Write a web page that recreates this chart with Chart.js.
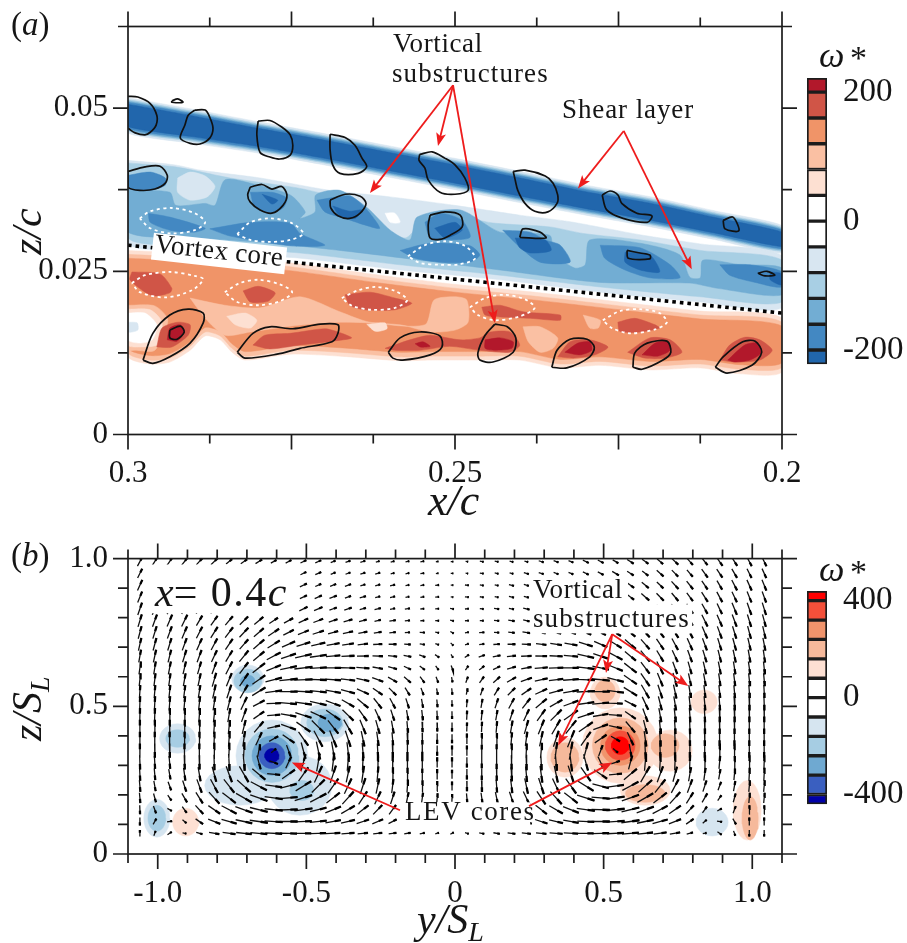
<!DOCTYPE html>
<html>
<head>
<meta charset="utf-8">
<title>vorticity</title>
<script src="https://cdn.jsdelivr.net/npm/chart.js@4"></script>
<style>
body { margin: 0; background: #fff; overflow: hidden; }
canvas { position: absolute; }
</style>
</head>
<body>
<canvas id="cv-a" width="907" height="540" style="left:0px;top:-20px"></canvas>
<canvas id="cv-b" width="907" height="423" style="left:0px;top:520px"></canvas>
<canvas id="cv-bar-a" width="117" height="365" style="left:790px;top:35px"></canvas>
<canvas id="cv-bar-b" width="117" height="310" style="left:790px;top:530px"></canvas>
<script>
// axis ticks
const aXLong = [0.3, 0.275, 0.25, 0.225, 0.2];
const aXShort = [0.2875, 0.2625, 0.2375, 0.2125];
const aYLong = [0, 0.025, 0.05];
const aYShort = [0.0125, 0.0375, 0.0625];
const aXLabels = ['0.3', '0.25', '0.2'];
const aYLabels = ['0', '0.025', '0.05'];
const bXLong = [-1, -0.5, 0, 0.5, 1];
const bXShort = [-1.1, -0.9, -0.8, -0.7, -0.6, -0.4, -0.3, -0.2, -0.1, 0.1, 0.2, 0.3, 0.4, 0.6, 0.7, 0.8, 0.9, 1.1];
const bYLong = [0, 0.5, 1];
const bYShort = [0.1, 0.2, 0.3, 0.4, 0.6, 0.7, 0.8, 0.9];
const bXLabels = ['-1.0', '-0.5', '0', '0.5', '1.0'];
const bYLabels = ['0', '0.5', '1.0'];

// colour bars
const barEdgesA = [-222, -200, -160, -120, -80, -40, 0, 40, 80, 120, 160, 200, 222];
const barColorsA = ['#2166ac', '#4388c2', '#72add3', '#a8cfe4', '#d8e6f1', '#ffffff', '#ffffff', '#fde0d2', '#fac0a3', '#f09468', '#d05547', '#b2182b'];
const barEdgesB = [-440, -400, -320, -240, -160, -80, 0, 80, 160, 240, 320, 400, 440];
const barColorsB = ['#0000a8', '#3a5fc0', '#6fa9d1', '#a6cde3', '#d6e5f0', '#ffffff', '#ffffff', '#fde0d3', '#f6b99b', '#f0946c', '#f4503a', '#ff0000'];
const barTicksA = [-200, 0, 200];
const barTicksB = [-400, 0, 400];

// (a) x/c and z/c below are in units of 1e-4
const stations = [3000, 2900, 2800, 2700, 2600, 2500, 2400, 2300, 2200, 2100, 2000];
const shearTop1 = [516, 498, 479, 461, 442, 423, 403, 382, 364, 342, 320];
const shearBot1 = [462, 446, 431, 413, 394, 375, 355, 336, 318, 298, 278];
const shearTop2 = [513, 495, 476, 458, 439, 420, 400, 379, 361, 339, 317];
const shearBot2 = [465, 449, 434, 416, 397, 378, 358, 339, 321, 301, 281];
const shearTop3 = [511, 493, 474, 456, 437, 418, 398, 377, 359, 337, 315];
const shearBot3 = [467, 451, 436, 418, 399, 380, 360, 341, 323, 303, 283];
const shearTop4 = [509, 491, 472, 454, 435, 416, 396, 375, 357, 335, 313];
const shearBot4 = [469, 453, 438, 420, 401, 382, 362, 343, 325, 305, 285];
const shearTop5 = [506, 488, 469, 451, 432, 413, 393, 372, 354, 332, 310];
const shearBot5 = [472, 456, 441, 423, 404, 385, 365, 346, 328, 308, 288];

const coreBlue1 = [3000,420, 2928,413, 2890,405, 2798,393, 2691,374, 2599,364, 2500,351, 2401,336, 2324,326, 2217,306, 2125,292, 2000,274, 2000,194, 2125,203, 2278,218, 2431,237, 2584,252, 2737,270, 2890,282, 3000,293];
const coreBlue2 = [3000,416, 2928,410, 2844,393, 2737,377, 2676,362, 2638,348, 2607,316, 2576,301, 2553,321, 2508,336, 2442,324, 2355,318, 2304,308, 2217,298, 2125,282, 2000,267, 2000,203, 2125,211, 2278,226, 2431,244, 2584,260, 2737,278, 2890,290, 3000,301];
const lightPatch = [2924,393, 2905,402, 2882,396, 2867,380, 2879,364, 2905,359, 2924,371];
const whiteSpot = [2607,339, 2592,339, 2584,325, 2599,325];
const coreBlue3 = [3000,374, 2936,371, 2927,351, 2882,354, 2867,351, 2852,390, 2813,385, 2752,367, 2729,341, 2737,331, 2714,341, 2713,367, 2676,374, 2635,348, 2599,313, 2569,298, 2558,333, 2492,344, 2431,310, 2355,305, 2350,278, 2317,255, 2301,260, 2294,298, 2217,293, 2156,275, 2141,241, 2125,240, 2121,267, 2064,260, 2000,255, 2000,214, 2099,224, 2141,232, 2278,233, 2431,252, 2553,267, 2676,282, 2783,293, 2890,301, 3000,310];
const patchesBlue4 = [
  [3000,397, 2966,402, 2943,393, 2943,382, 2966,374, 3000,377],
  [2969,339, 2936,333, 2882,316, 2898,310, 2936,313, 2966,325],
  [2875,315, 2813,325, 2752,324, 2737,308, 2699,290, 2752,289, 2844,304],
  [2813,371, 2780,371, 2757,362, 2763,347, 2783,339, 2806,348],
  [2711,359, 2661,365, 2638,348, 2615,316, 2638,321, 2668,331, 2699,341],
  [2546,325, 2523,339, 2489,328, 2477,302, 2515,298, 2538,301],
  [2584,282, 2538,293, 2477,289, 2462,275, 2477,264, 2523,264, 2561,270],
  [2427,313, 2385,310, 2362,298, 2339,290, 2324,264, 2370,264, 2404,290],
  [2278,290, 2217,286, 2171,260, 2156,240, 2202,240, 2240,252, 2271,270],
  [2095,260, 2049,260, 2000,249, 2000,226, 2041,233, 2080,244]
];
const patchesBlue5 = [
  [2795,368, 2771,359, 2780,353],
  [2687,350, 2661,342, 2642,344, 2653,331, 2676,335],
  [2531,316, 2500,325, 2489,313, 2515,301],
  [2408,301, 2362,298, 2353,282, 2385,278, 2401,286],
  [2240,279, 2202,275, 2187,249, 2217,252, 2240,264],
  [2018,249, 2000,246, 2000,229, 2018,237]
];
const coreRed1 = [3000,282, 2890,276, 2752,263, 2615,244, 2500,230, 2370,217, 2248,203, 2125,189, 2000,178, 2000,96, 2064,93, 2125,102, 2202,99, 2278,106, 2339,102, 2401,114, 2462,114, 2538,114, 2584,113, 2676,120, 2752,123, 2821,114, 2841,126, 2859,145, 2882,151, 2905,129, 2936,111, 2966,108, 3000,120];
const coreRed2 = [3000,276, 2890,270, 2752,257, 2615,238, 2500,224, 2370,211, 2248,197, 2125,183, 2000,172, 2000,103, 2064,100, 2125,108, 2202,105, 2278,112, 2339,108, 2401,120, 2462,120, 2538,120, 2584,119, 2676,126, 2752,129, 2821,120, 2841,132, 2859,151, 2882,157, 2905,135, 2936,117, 2966,114, 3000,126];
const coreRed3 = [3000,270, 2890,264, 2752,251, 2615,232, 2500,218, 2370,205, 2248,191, 2125,177, 2000,166, 2000,110, 2064,107, 2125,115, 2202,112, 2278,119, 2339,115, 2401,127, 2462,127, 2538,127, 2584,126, 2676,133, 2752,136, 2821,127, 2841,139, 2859,158, 2882,164, 2905,142, 2936,124, 2966,121, 3000,133];
const patchesRed2 = [
  [2905,209, 2852,198, 2798,194, 2737,211, 2676,188, 2630,172, 2546,168, 2532,206, 2500,211, 2482,206, 2480,172, 2500,160, 2538,157, 2584,168, 2676,172, 2752,166, 2813,157, 2852,152, 2882,178],
  [2396,165, 2370,165, 2343,148, 2350,132, 2370,126, 2388,142],
  [2304,183, 2278,175, 2281,163, 2294,163],
  [3000,198, 2959,197, 2939,175, 2959,129, 2989,129, 3000,129]
];
const patchesRed1 = [
  [2849,181, 2821,186, 2803,175, 2813,163, 2836,168],
  [2635,169, 2607,171, 2604,162, 2622,158],
  [3000,192, 2966,191, 2948,172, 2955,138, 2982,134, 3000,137]
];
const holeWhite = [3000,186, 2974,186, 2956,168, 2963,145, 2982,140, 3000,145];
const holeBlue = [3000,172, 2986,171, 2985,160, 3000,157];
const patchesRed4 = [
  [2994,249, 2951,246, 2933,224, 2936,217, 2959,212, 2974,218, 2997,237],
  [2824,220, 2801,227, 2775,217, 2786,204, 2813,203],
  [2668,214, 2630,218, 2592,209, 2566,201, 2592,191, 2638,191, 2661,198],
  [2459,195, 2431,198, 2396,188, 2339,183, 2339,175, 2385,178, 2431,180, 2454,183],
  [2251,172, 2225,178, 2194,168, 2187,163, 2217,157, 2248,158],
  [2956,134, 2948,163, 2924,172, 2905,168, 2908,152, 2933,134],
  [2809,137, 2791,152, 2752,155, 2699,162, 2679,157, 2658,148, 2687,143, 2737,137, 2783,131],
  [2607,132, 2569,145, 2538,152, 2492,145, 2462,148, 2446,157, 2416,157, 2401,137, 2416,126, 2462,129, 2508,135, 2553,129, 2592,129],
  [2343,119, 2324,142, 2294,145, 2266,134, 2286,122, 2317,117],
  [2236,126, 2202,148, 2171,145, 2153,126, 2179,117, 2210,117],
  [2095,114, 2080,137, 2057,149, 2034,145, 2015,129, 2034,114, 2072,111]
];
const patchesRed5 = [
  [2940,145, 2936,163, 2920,168, 2914,157, 2925,143],
  [2561,139, 2549,142, 2538,135, 2553,134],
  [2454,145, 2431,148, 2411,142, 2413,132, 2439,129, 2454,132],
  [2332,126, 2312,140, 2294,142, 2291,129, 2309,122],
  [2214,122, 2194,140, 2174,142, 2171,129, 2190,120],
  [2083,114, 2057,137, 2038,140, 2031,126, 2049,114, 2072,111]
];
const blackLoops = [
  [3000,518, 2985,517, 2966,507, 2956,489, 2957,474, 2966,463, 2974,459, 2989,462, 3000,469],
  [2933,511, 2924,514, 2916,509, 2933,509],
  [2898,497, 2882,497, 2875,486, 2870,469, 2875,454, 2890,445, 2905,446, 2920,454, 2913,474, 2908,489],
  [2801,480, 2783,481, 2765,471, 2752,459, 2748,443, 2752,428, 2768,422, 2783,425, 2798,432, 2803,459],
  [2691,460, 2668,455, 2653,443, 2642,423, 2635,410, 2648,400, 2676,400, 2687,413, 2691,436],
  [2554,429, 2535,433, 2515,423, 2500,413, 2485,393, 2480,374, 2500,368, 2523,371, 2541,390, 2546,408, 2555,420],
  [2411,403, 2393,405, 2362,396, 2350,385, 2343,367, 2344,354, 2358,341, 2378,342, 2393,354, 2404,374, 2408,390],
  [2275,367, 2263,373, 2251,367, 2245,354, 2222,339, 2199,335, 2206,325, 2243,331, 2268,344],
  [2090,328, 2075,333, 2066,312, 2087,315],
  [3000,403, 2974,410, 2951,411, 2940,397, 2943,385, 2959,376, 2982,374, 3000,379],
  [2813,379, 2795,383, 2780,376, 2765,380, 2757,367, 2763,351, 2780,339, 2798,344, 2813,356, 2817,367],
  [2691,359, 2668,368, 2645,365, 2636,354, 2645,339, 2661,331, 2679,335, 2690,347],
  [2538,336, 2515,341, 2492,336, 2489,318, 2508,305, 2523,299, 2538,301, 2541,321],
  [2401,302, 2396,315, 2370,310, 2361,301],
  [2237,282, 2235,270, 2202,269, 2202,275, 2217,278],
  [2037,247, 2023,250, 2011,244, 2026,243],
  [2977,114, 2962,155, 2936,183, 2908,192, 2885,186, 2885,171, 2905,140, 2936,119, 2962,109],
  [2936,160, 2920,166, 2914,157, 2925,146, 2936,148],
  [2833,126, 2809,155, 2783,165, 2748,162, 2706,169, 2679,168, 2679,155, 2688,142, 2737,132, 2772,123, 2821,117],
  [2602,126, 2584,148, 2554,157, 2523,151, 2520,134, 2538,122, 2580,114, 2595,117],
  [2439,169, 2420,165, 2407,148, 2411,126, 2442,111, 2462,114, 2465,125, 2454,152],
  [2352,103, 2344,129, 2324,146, 2298,146, 2287,134, 2294,119, 2329,102],
  [2228,103, 2225,125, 2206,140, 2176,143, 2170,126, 2182,114, 2214,100],
  [2102,103, 2090,119, 2060,142, 2041,143, 2031,126, 2046,106, 2084,94]
];
const whiteLoops = [
  [2982,331, 2966,342, 2933,347, 2898,339, 2882,325, 2898,313, 2933,308, 2966,316],
  [2833,307, 2813,325, 2783,331, 2752,325, 2732,308, 2752,298, 2783,295, 2813,298],
  [2572,273, 2546,290, 2515,296, 2485,289, 2469,270, 2492,261, 2523,260, 2554,263],
  [2994,232, 2974,244, 2936,249, 2898,243, 2885,238, 2902,221, 2943,210, 2982,218],
  [2852,218, 2829,232, 2801,237, 2768,230, 2749,218, 2768,204, 2801,198, 2833,203],
  [2673,209, 2648,221, 2622,226, 2592,220, 2573,206, 2592,194, 2627,191, 2657,197],
  [2477,195, 2454,209, 2424,214, 2393,207, 2378,194, 2401,181, 2439,175, 2465,183],
  [2274,175, 2248,189, 2217,192, 2187,186, 2176,172, 2194,161, 2232,155, 2260,163]
];
const vortexCoreLine = [3000,290, 2500,238, 2000,186];
const redArrowsA = [
  [2503,535, 2630,370], [2503,535, 2526,442], [2503,535, 2439,171],
  [2242,465, 2312,377], [2242,465, 2138,253]
];

// (b) blobs: y/S, z/S, radius in y, radius in z
const blobsBlue1 = [[-0.616,0.333,0.121,0.121], [-0.724,0.232,0.118,0.067], [-0.522,0.232,0.108,0.101], [-0.438,0.444,0.081,0.064], [-0.933,0.391,0.061,0.05], [-0.697,0.593,0.054,0.047], [-1.003,0.121,0.044,0.064], [0.865,0.108,0.054,0.047]];
const blobsBlue2 = [[-0.616,0.333,0.091,0.091], [-0.438,0.444,0.061,0.047], [-0.933,0.391,0.04,0.03], [-0.697,0.586,0.047,0.04], [-1.003,0.121,0.03,0.044], [-0.515,0.215,0.04,0.034]];
const blobsBlue3 = [[-0.616,0.333,0.067,0.067], [-0.421,0.444,0.04,0.03], [-0.697,0.586,0.024,0.02]];
const blobsBlue4 = [[-0.616,0.333,0.044,0.044]];
const blobsBlue5 = [[-0.616,0.333,0.024,0.024]];
const blobsRed1 = [[0.556,0.367,0.128,0.128], [0.724,0.35,0.074,0.07], [0.37,0.327,0.061,0.067], [0.64,0.215,0.084,0.05], [0.505,0.545,0.05,0.054], [0.838,0.515,0.044,0.04], [-0.906,0.108,0.044,0.047], [0.983,0.148,0.047,0.101]];
const blobsRed2 = [[0.556,0.367,0.094,0.094], [0.37,0.327,0.047,0.05], [0.64,0.205,0.067,0.03], [0.505,0.552,0.034,0.037], [0.707,0.367,0.047,0.04], [0.993,0.121,0.027,0.074]];
const blobsRed3 = [[0.556,0.367,0.067,0.067]];
const blobsRed4 = [[0.556,0.367,0.05,0.05]];
const blobsRed5 = [[0.556,0.367,0.03,0.03]];
const redArrowsB = [
  [0.529,0.744,0.347,0.367], [0.529,0.744,0.508,0.613], [0.529,0.744,0.785,0.569],
  [-0.185,0.148,-0.549,0.31], [0.249,0.162,0.529,0.31]
];
const whiteBoxesB = [[-1.037,0.98,-0.532,0.815], [0.253,0.939,0.582,0.845], [0.253,0.845,0.798,0.747], [-0.182,0.175,0.253,0.098]];

// (b) velocity field
const quiverY = [-1.06,-1.01,-0.96,-0.91,-0.86,-0.81,-0.76,-0.71,-0.66,-0.61,-0.56,-0.51,-0.46,-0.41,-0.36,-0.31,-0.26,-0.21,-0.16,-0.11,-0.06,-0.01,0.04,0.09,0.14,0.19,0.24,0.29,0.34,0.39,0.44,0.49,0.54,0.59,0.64,0.69,0.74,0.79,0.84,0.89,0.94,0.99,1.04];
const quiverZ = [0.99,0.95,0.91,0.87,0.83,0.79,0.75,0.71,0.67,0.63,0.59,0.55,0.51,0.47,0.43,0.39,0.35,0.31,0.27,0.23,0.19,0.15,0.11,0.07];
const quiverAngle = [
[62,58,55,52,48,44,40,36,33,30,28,26,24,22,20,18,16,14,12,10,8,0,-8,-10,-12,-14,-16,-18,-20,-22,-26,-28,-30,-33,-36,-40,-44,-48,-52,-55,-58,-62,-64],
[64,60,57,54,50,46,42,38,34,31,28,26,24,22,20,18,16,14,12,10,8,0,-8,-10,-12,-14,-16,-18,-20,-22,-26,-28,-31,-34,-38,-42,-46,-50,-54,-57,-60,-64,-66],
[66,63,60,56,52,48,44,40,36,32,29,26,24,22,20,18,16,14,12,10,6,0,-6,-10,-12,-14,-16,-18,-20,-22,-26,-29,-32,-36,-40,-44,-48,-52,-56,-60,-63,-66,-68],
[68,65,62,58,54,50,46,41,37,33,29,26,24,21,19,17,15,13,11,8,5,-5,-5,-8,-11,-13,-15,-17,-19,-21,-26,-29,-33,-37,-41,-46,-50,-54,-58,-62,-65,-68,-70],
[71,68,65,61,57,53,48,43,38,34,30,26,23,20,18,16,14,12,9,6,3,-10,5,-6,-9,-12,-14,-16,-18,-20,-26,-30,-34,-38,-43,-48,-53,-57,-61,-65,-68,-71,-73],
[73,70,67,64,60,55,50,45,40,34,29,25,21,18,16,14,12,10,7,3,-3,-15,3,-3,-7,-10,-12,-14,-16,-18,-25,-29,-34,-40,-45,-50,-55,-60,-64,-67,-70,-73,-75],
[75,73,70,67,63,58,53,47,41,34,27,22,18,15,13,11,9,6,3,-2,-10,-30,10,2,-3,-6,-9,-11,-13,-15,-22,-27,-34,-41,-47,-53,-58,-63,-67,-70,-73,-75,-77],
[77,75,73,70,66,62,56,49,41,32,24,18,13,10,8,6,3,0,-4,-10,-20,-45,20,10,4,0,-3,-6,-8,-10,-18,-24,-32,-41,-49,-56,-62,-66,-70,-73,-75,-77,-79],
[80,78,76,73,70,65,59,51,40,28,19,13,8,5,3,1,-2,-6,-12,-20,-35,-60,35,20,12,6,2,-1,-3,-5,-13,-19,-28,-40,-51,-59,-65,-70,-73,-76,-78,-80,-82],
[82,81,79,77,74,70,63,53,38,22,12,7,3,0,-2,-5,-10,-16,-25,-38,-55,-70,55,38,25,16,10,5,2,0,-7,-12,-22,-38,-53,-63,-70,-74,-77,-79,-81,-82,-84],
[84,83,82,80,78,74,68,56,35,15,6,2,-2,-4,-7,-12,-20,-30,-42,-55,-70,-80,70,55,42,30,20,12,7,4,-2,-6,-15,-35,-56,-68,-74,-78,-80,-82,-83,-84,-85],
[86,85,84,83,81,78,72,60,32,8,0,-3,-6,-10,-15,-25,-35,-45,-58,-70,-80,-85,80,70,58,45,35,25,15,10,3,0,-8,-32,-60,-72,-78,-81,-83,-84,-85,-86,-87],
[88,87,86,85,84,81,76,65,28,2,-5,-8,-13,-20,-30,-40,-52,-62,-72,-80,-85,-88,85,80,72,62,52,40,30,20,8,5,-2,-28,-65,-76,-81,-84,-85,-86,-87,-88,-88],
[89,88,88,87,86,84,80,70,35,5,-10,-18,-25,-35,-45,-55,-65,-72,-80,-84,-87,-89,87,84,80,72,65,55,45,35,18,10,-5,-35,-70,-80,-84,-86,-87,-88,-88,-89,-89],
[90,89,89,88,88,86,84,76,50,12,-20,-35,-45,-52,-60,-68,-74,-80,-85,-87,-88,-90,88,87,85,80,74,68,60,52,35,20,-12,-50,-76,-84,-86,-88,-88,-89,-89,-90,-90],
[90,90,90,89,89,88,86,82,65,30,-35,-55,-62,-68,-72,-78,-82,-85,-87,-89,-90,-90,90,89,87,85,82,78,72,68,55,35,-30,-65,-82,-86,-88,-89,-89,-90,-90,-90,-90],
[90,-89,-88,90,90,89,88,87,80,40,-70,-75,-78,-80,-83,-85,-87,-88,-90,-90,-90,90,90,90,90,88,87,85,83,80,75,70,-40,-80,-87,-88,-89,-90,-90,88,89,-90,-90],
[-88,-87,-85,-88,-88,-88,-87,-85,-75,-20,65,75,80,83,85,87,88,89,90,90,90,90,-90,-90,-90,-89,-88,-87,-85,-83,-75,-65,20,75,85,87,88,88,88,85,87,88,88],
[-87,-85,-80,-82,-80,-75,-70,-60,-40,-5,35,55,65,72,78,82,85,87,89,90,90,90,-90,-90,-89,-87,-85,-82,-78,-72,-55,-35,5,40,60,70,75,80,82,80,85,87,87],
[-85,-80,-70,-72,-70,-62,-52,-42,-28,-8,15,32,45,55,65,72,78,83,86,88,89,90,-89,-88,-86,-83,-78,-72,-65,-55,-32,-15,8,28,42,52,62,70,72,70,80,85,85],
[-85,-75,-55,-60,-58,-48,-38,-30,-20,-8,5,18,28,38,48,57,65,72,78,82,85,88,-85,-82,-78,-72,-65,-57,-48,-38,-18,-5,8,20,30,38,48,58,60,55,75,85,85],
[-88,-70,-30,-55,-48,-35,-28,-20,-14,-6,2,8,14,22,30,38,46,54,60,66,72,78,-72,-66,-60,-54,-46,-38,-30,-22,-8,-2,6,14,20,28,35,48,55,30,70,88,88],
[-90,60,10,-40,-35,-22,-15,-12,-8,-4,0,3,6,10,14,18,23,28,32,38,45,55,-45,-38,-32,-28,-23,-18,-14,-10,-3,0,4,8,12,15,22,35,40,-10,-60,90,90],
[90,70,35,-10,-15,-10,-8,-6,-5,-3,-2,0,2,3,4,5,6,8,10,12,18,30,-18,-12,-10,-8,-6,-5,-4,-3,0,2,3,5,6,8,10,15,10,-35,-70,-90,-90]
];
const quiverSpeed = [
[8,8,8,7,7,7,6,6,6,5,5,5,5,4,4,4,3,3,3,3,2,2,2,3,3,3,3,4,4,4,5,5,5,6,6,6,7,7,7,8,8,8,8],
[8,8,8,8,7,7,7,6,6,6,5,5,5,4,4,4,4,3,3,3,2,2,2,3,3,3,4,4,4,4,5,5,6,6,6,7,7,7,8,8,8,8,8],
[9,9,8,8,8,8,7,7,7,6,6,6,5,5,5,4,4,4,3,3,3,2,3,3,3,4,4,4,5,5,6,6,6,7,7,7,8,8,8,8,9,9,9],
[9,9,9,9,8,8,8,8,7,7,7,6,6,6,5,5,4,4,3,3,3,2,3,3,3,4,4,5,5,6,6,7,7,7,8,8,8,8,9,9,9,9,9],
[10,10,9,9,9,9,8,8,8,8,7,7,7,6,6,5,5,4,4,3,3,3,3,3,4,4,5,5,6,6,7,7,8,8,8,8,9,9,9,9,10,10,10],
[10,10,10,10,9,9,9,9,9,8,8,8,8,7,7,6,5,5,4,3,3,3,3,3,4,5,5,6,7,7,8,8,8,9,9,9,9,9,10,10,10,10,10],
[10,10,10,10,10,10,10,10,10,10,9,9,9,8,8,7,6,5,4,4,3,3,3,4,4,5,6,7,8,8,9,9,10,10,10,10,10,10,10,10,10,10,10],
[10,10,10,10,10,10,10,10,11,11,11,11,11,10,9,8,7,6,5,4,3,3,3,4,5,6,7,8,9,10,11,11,11,11,10,10,10,10,10,10,10,10,10],
[10,10,10,10,10,10,10,11,11,12,12,13,13,11,10,9,8,7,6,5,4,3,4,5,6,7,8,9,10,11,13,12,12,11,11,10,10,10,10,10,10,10,10],
[10,10,10,10,10,10,11,11,12,12,13,14,13,12,11,10,8,7,6,5,4,4,4,5,6,7,8,10,11,12,14,13,12,12,11,11,10,10,10,10,10,10,10],
[10,10,10,10,10,11,11,12,12,13,14,14,13,12,11,10,9,8,7,6,5,4,5,6,7,8,9,10,11,12,14,14,13,12,12,11,11,10,10,10,10,10,10],
[10,10,10,10,10,11,11,12,12,13,14,14,13,12,11,10,9,8,7,6,5,5,5,6,7,8,9,10,11,12,14,14,13,12,12,11,11,10,10,10,10,10,10],
[11,11,11,11,11,11,11,11,10,11,13,13,13,12,11,11,10,9,8,7,6,5,6,7,8,9,10,11,11,12,13,13,11,10,11,11,11,11,11,11,11,11,11],
[11,11,11,11,11,11,11,11,10,10,12,13,13,13,12,11,10,9,8,8,7,6,7,8,8,9,10,11,12,13,13,12,10,10,11,11,11,11,11,11,11,11,11],
[11,11,11,11,11,11,11,11,11,10,12,13,14,13,13,12,11,10,9,8,7,7,7,8,9,10,11,12,13,13,13,12,10,11,11,11,11,11,11,11,11,11,11],
[11,11,11,11,11,11,12,12,11,8,11,13,14,14,13,12,11,10,9,9,8,7,8,9,9,10,11,12,13,14,13,11,8,11,12,12,11,11,11,11,11,11,11],
[11,11,11,11,11,12,12,13,10,5,9,13,14,14,13,12,11,11,10,9,8,8,8,9,10,11,11,12,13,14,13,9,5,10,13,12,12,11,11,11,11,11,11],
[11,10,10,11,11,12,13,13,11,7,10,13,14,14,13,12,12,11,10,9,8,8,8,9,10,11,12,12,13,14,13,10,7,11,13,13,12,11,11,10,10,11,11],
[10,9,8,10,11,12,13,14,13,10,12,13,14,14,13,13,12,11,10,9,8,7,8,9,10,11,12,13,13,14,13,12,10,13,14,13,12,11,10,8,9,10,10],
[9,8,7,9,11,12,13,14,14,13,13,14,14,14,13,13,12,11,10,9,8,7,8,9,10,11,12,13,13,14,14,13,13,14,14,13,12,11,9,7,8,9,9],
[8,7,5,8,10,12,13,14,14,14,14,14,14,13,13,12,11,10,9,8,7,6,7,8,9,10,11,12,13,13,14,14,14,14,14,13,12,10,8,5,7,8,8],
[7,6,4,6,9,11,13,14,14,14,14,14,13,13,12,11,10,9,8,7,6,5,6,7,8,9,10,11,12,13,14,14,14,14,14,13,11,9,6,4,6,7,7],
[6,5,4,4,7,10,12,13,14,14,14,13,13,12,11,10,9,7,6,5,5,4,5,5,6,7,9,10,11,12,13,14,14,14,13,12,10,7,4,4,5,6,6],
[5,4,4,3,5,8,10,12,13,13,13,12,12,11,10,8,7,6,5,4,3,3,3,4,5,6,7,8,10,11,12,13,13,13,12,10,8,5,3,4,4,5,5]
];

const SERIF = '"Liberation Serif", serif';
const RED = '#ee1c1c';
const INK = '#1c1c1c';

function pts(flat) {
    let out = [];
    for (let i = 0; i < flat.length; i += 2) out.push({x: flat[i] / 1e4, y: flat[i + 1] / 1e4});
    return out;
}

function closed(list) {
    return list.concat([list[0]]);
}

function area(points, color, tension) {
    return {data: points, fill: 'shape', backgroundColor: color, borderColor: color, borderWidth: 0.5,
            tension: tension === undefined ? 0.25 : tension, pointRadius: 0};
}

function band(top, bot, color) {
    let up = stations.map((s, i) => ({x: s / 1e4, y: top[i] / 1e4}));
    let down = stations.map((s, i) => ({x: s / 1e4, y: bot[i] / 1e4})).reverse();
    return area(closed(up.concat(down)), color, 0.15);
}

function loop(flat, color, width, dash, open) {
    let p = pts(flat);
    return {data: open ? p : closed(p), borderColor: color, borderWidth: width, borderDash: dash || [],
            tension: 0.3, pointRadius: 0, fill: false};
}

function buildA() {
    const [b5, b4, b3, b2, b1] = barColorsA;
    const r1 = barColorsA[7], r2 = barColorsA[8], r3 = barColorsA[9], r4 = barColorsA[10], r5 = barColorsA[11];
    let ds = [
        area(closed(pts(coreBlue1)), b1),
        band(shearTop1, shearBot1, b1), band(shearTop2, shearBot2, b2), band(shearTop3, shearBot3, b3),
        band(shearTop4, shearBot4, b4), band(shearTop5, shearBot5, b5),
        area(closed(pts(coreBlue2)), b2),
        area(closed(pts(lightPatch)), b1), area(closed(pts(whiteSpot)), '#ffffff'),
        area(closed(pts(coreBlue3)), b3)
    ];
    patchesBlue4.forEach(p => ds.push(area(closed(pts(p)), b4)));
    patchesBlue5.forEach(p => ds.push(area(closed(pts(p)), b5)));
    ds.push(area(closed(pts(coreRed1)), r1), area(closed(pts(coreRed2)), r2), area(closed(pts(coreRed3)), r3));
    patchesRed2.forEach(p => ds.push(area(closed(pts(p)), r2)));
    patchesRed1.forEach(p => ds.push(area(closed(pts(p)), r1)));
    ds.push(area(closed(pts(holeWhite)), '#ffffff'), area(closed(pts(holeBlue)), b1));
    patchesRed4.forEach(p => ds.push(area(closed(pts(p)), r4)));
    patchesRed5.forEach(p => ds.push(area(closed(pts(p)), r5)));
    blackLoops.forEach((p, i) => ds.push(loop(p, '#111111', 1.7, null, i === 0)));
    whiteLoops.forEach(p => ds.push(loop(p, '#ffffff', 1.8, [3, 3.5])));
    ds.push({data: pts(vortexCoreLine), borderColor: '#000000', borderWidth: 3.6, borderDash: [3.6, 4], pointRadius: 0, fill: false});
    // chart.js paints the first dataset last
    return ds.reverse();
}

function ellipse(b) {
    let out = [];
    for (let k = 0; k <= 24; k++) {
        let t = k / 24 * Math.PI * 2;
        out.push({x: b[0] + b[2] * Math.cos(t), y: b[1] + b[3] * Math.sin(t)});
    }
    return out;
}

function buildB() {
    let ds = [];
    let layer = (list, color) => list.forEach(b => ds.push(area(ellipse(b), color, 0)));
    layer(blobsBlue1, barColorsB[4]); layer(blobsBlue2, barColorsB[3]); layer(blobsBlue3, barColorsB[2]);
    layer(blobsBlue4, barColorsB[1]); layer(blobsBlue5, barColorsB[0]);
    layer(blobsRed1, barColorsB[7]); layer(blobsRed2, barColorsB[8]); layer(blobsRed3, barColorsB[9]);
    layer(blobsRed4, barColorsB[10]); layer(blobsRed5, barColorsB[11]);

    let shafts = [], heads = [];
    quiverZ.forEach((z, r) => {
        quiverY.forEach((y, c) => {
            let a = quiverAngle[r][c] * Math.PI / 180;
            let len = quiverSpeed[r][c] / 228;
            let dx = Math.cos(a) * len / 2, dz = Math.sin(a) * len / 2;
            shafts.push({x: y - dx, y: z - dz}, {x: y + dx, y: z + dz}, {x: null, y: null});
            heads.push({x: y + dx * 0.2, y: z + dz * 0.2}, {x: y + dx, y: z + dz}, {x: null, y: null});
        });
    });
    ds.push({data: shafts, borderColor: '#111111', borderWidth: 1.3, pointRadius: 0, fill: false, spanGaps: false});
    ds.push({data: heads, borderColor: '#000000', borderWidth: 2.3, pointRadius: 0, fill: false, spanGaps: false});
    return ds.reverse();
}

function drawFrame(chart, xLong, xShort, yLong, yShort) {
    const ctx = chart.ctx, a = chart.chartArea, sx = chart.scales.x, sy = chart.scales.y;
    ctx.save();
    ctx.strokeStyle = INK;
    ctx.lineWidth = 1.7;
    ctx.strokeRect(a.left, a.top, a.right - a.left, a.bottom - a.top);
    ctx.beginPath();
    let xt = (v, len) => {
        let p = sx.getPixelForValue(v);
        ctx.moveTo(p, a.top - len); ctx.lineTo(p, a.top);
        ctx.moveTo(p, a.bottom); ctx.lineTo(p, a.bottom + len);
    };
    let yt = (v, len) => {
        let p = sy.getPixelForValue(v);
        ctx.moveTo(a.left - len, p); ctx.lineTo(a.left, p);
        ctx.moveTo(a.right, p); ctx.lineTo(a.right + len, p);
    };
    xLong.forEach(v => xt(v, 15));
    xShort.forEach(v => xt(v, 9));
    yLong.forEach(v => yt(v, 15));
    yShort.forEach(v => yt(v, 10));
    ctx.stroke();
    ctx.restore();
}

function drawRedArrow(chart, x0, z0, x1, z1) {
    const ctx = chart.ctx, sx = chart.scales.x, sy = chart.scales.y;
    let ax = sx.getPixelForValue(x0), ay = sy.getPixelForValue(z0);
    let bx = sx.getPixelForValue(x1), by = sy.getPixelForValue(z1);
    let ang = Math.atan2(by - ay, bx - ax);
    ctx.save();
    ctx.strokeStyle = RED; ctx.fillStyle = RED; ctx.lineWidth = 1.8;
    ctx.beginPath();
    ctx.moveTo(ax, ay);
    ctx.lineTo(bx - Math.cos(ang) * 8, by - Math.sin(ang) * 8);
    ctx.stroke();
    ctx.translate(bx, by);
    ctx.rotate(ang);
    ctx.beginPath();
    ctx.moveTo(0, 0); ctx.lineTo(-13, -5); ctx.lineTo(-10, 0); ctx.lineTo(-13, 5);
    ctx.closePath();
    ctx.fill();
    ctx.restore();
}

// text made of differently styled runs, optional rotation round the start point
function runs(ctx, x, y, parts, rot) {
    ctx.save();
    ctx.translate(x, y);
    if (rot) ctx.rotate(rot);
    ctx.fillStyle = '#151515';
    ctx.textBaseline = 'alphabetic';
    ctx.textAlign = 'left';
    let pen = 0;
    parts.forEach(p => {
        ctx.font = p[1];
        ctx.letterSpacing = (p[3] || 0) + 'px';
        ctx.fillText(p[0], pen, p[2] || 0);
        pen += ctx.measureText(p[0]).width;
    });
    ctx.restore();
}

const plain = n => n + 'px ' + SERIF;
const ital = n => 'italic ' + n + 'px ' + SERIF;

function panelAText(chart) {
    const ctx = chart.ctx;
    ctx.save();
    // canvas starts 20px above the page
    ctx.translate(0, 20);
    ctx.save();
    ctx.translate(219, 254);
    ctx.rotate(0.11);
    ctx.fillStyle = '#ffffff';
    ctx.fillRect(-67, -14, 134, 27);
    ctx.restore();
    runs(ctx, 154, 252, [['Vortex core', plain(27), 0, 0.4]], 0.11);
    runs(ctx, 393, 52, [['Vortical', plain(27), 0, 0.6]]);
    runs(ctx, 392, 82, [['substructures', plain(27), 0, 1.1]]);
    runs(ctx, 562, 118, [['Shear layer', plain(27), 0, 0.9]]);
    runs(ctx, 11, 35, [['(', plain(33)], ['a', ital(33)], [')', plain(33)]]);
    runs(ctx, 428, 515, [['x/c', ital(44)]]);
    runs(ctx, 41, 255, [['z/c', ital(42)]], -Math.PI / 2);
    ctx.restore();
}

function panelBText(chart) {
    const ctx = chart.ctx;
    // page y minus the canvas offset
    runs(ctx, 155, 606 - 520, [['x', ital(42)], ['= 0.4', plain(42), 0, 1.5], ['c', ital(42)]]);
    runs(ctx, 533, 598 - 520, [['Vortical', plain(27), 0, 0.6]]);
    runs(ctx, 533, 627 - 520, [['substructures', plain(27), 0, 1.1]]);
    runs(ctx, 405, 820 - 520, [['LEV cores', plain(27), 0, 1.6]]);
    runs(ctx, 11, 566 - 520, [['(', plain(33)], ['b', ital(33)], [')', plain(33)]]);
    runs(ctx, 417, 933 - 520, [['y/S', ital(42)], ['L', ital(28), 8]]);
    runs(ctx, 41, 741 - 520, [['z/S', ital(42)], ['L', ital(28), 8]], -Math.PI / 2);
}

function axisOptions(min, max, labels, values, fixed, reverse, pad, pos) {
    return {
        type: 'linear', min: min, max: max, reverse: reverse, position: pos,
        grid: {display: false, drawTicks: false},
        border: {display: false},
        afterBuildTicks: s => { s.ticks = values.map(v => ({value: v})); },
        afterFit: s => { if (s.isHorizontal()) s.height = fixed; else s.width = fixed; },
        ticks: {
            autoSkip: false, maxRotation: 0, minRotation: 0, padding: pad, color: '#151515',
            font: {family: 'Liberation Serif', size: 31},
            callback: (v, i) => labels[i]
        }
    };
}

function makeField(id, datasets, scales, padRight, padTop, hook) {
    return new Chart(document.getElementById(id), {
        type: 'line',
        data: {datasets: datasets},
        options: {
            responsive: false, animation: false, events: [],
            layout: {autoPadding: false, padding: {left: 0, right: padRight, top: padTop, bottom: 0}},
            plugins: {legend: {display: false}, tooltip: {enabled: false}},
            scales: scales
        },
        plugins: [hook]
    });
}

makeField('cv-a', buildA(), {
    x: axisOptions(0.2, 0.3, aXLabels, [0.3, 0.25, 0.2], 85.5, true, 21, 'bottom'),
    y: axisOptions(0, 0.0625, aYLabels, [0, 0.025, 0.05], 128, false, 20, 'left')
}, 125, 46.5, {
    id: 'overlayA',
    afterDatasetsDraw(chart) {
        drawFrame(chart, aXLong, aXShort, aYLong, aYShort);
        panelAText(chart);
        redArrowsA.forEach(r => drawRedArrow(chart, r[0] / 1e4, r[1] / 1e4, r[2] / 1e4, r[3] / 1e4));
    }
});

makeField('cv-b', buildB(), {
    x: axisOptions(-1.1, 1.1, bXLabels, [-1, -0.5, 0, 0.5, 1], 89, false, 21, 'bottom'),
    y: axisOptions(0, 1, bYLabels, [0, 0.5, 1], 128, false, 20, 'left')
}, 125, 37, {
    id: 'overlayB',
    afterDatasetsDraw(chart) {
        const ctx = chart.ctx, sx = chart.scales.x, sy = chart.scales.y;
        ctx.save();
        ctx.fillStyle = '#ffffff';
        whiteBoxesB.forEach(b => {
            let x0 = sx.getPixelForValue(b[0]), y0 = sy.getPixelForValue(b[1]);
            ctx.fillRect(x0, y0, sx.getPixelForValue(b[2]) - x0, sy.getPixelForValue(b[3]) - y0);
        });
        ctx.restore();
        drawFrame(chart, bXLong, bXShort, bYLong, bYShort);
        panelBText(chart);
        redArrowsB.forEach(r => drawRedArrow(chart, r[0], r[1], r[2], r[3]));
    }
});

function makeBar(id, edges, colors, ticks, padTop, padBottom, labelY) {
    return new Chart(document.getElementById(id), {
        type: 'bar',
        data: {
            labels: ['w'],
            datasets: colors.map((c, i) => ({
                data: [[edges[i], edges[i + 1]]], backgroundColor: c, borderColor: INK, borderWidth: 2,
                barPercentage: 1, categoryPercentage: 1, grouped: false, borderSkipped: false
            }))
        },
        options: {
            responsive: false, animation: false, events: [],
            layout: {autoPadding: false, padding: {left: 17, right: 0, top: padTop, bottom: padBottom}},
            plugins: {legend: {display: false}, tooltip: {enabled: false}},
            scales: {
                x: {display: false},
                y: {
                    type: 'linear', position: 'right', min: edges[0], max: edges[edges.length - 1],
                    grid: {display: false, drawTicks: false}, border: {display: false},
                    afterBuildTicks: s => { s.ticks = ticks.map(v => ({value: v})); },
                    afterFit: s => { s.width = 80; },
                    ticks: {padding: 16, color: '#151515', font: {family: 'Liberation Serif', size: 33}, autoSkip: false,
                        callback: v => String(v)}
                }
            }
        },
        plugins: [{
            id: 'omega',
            afterDraw(chart) {
                runs(chart.ctx, 29, labelY, [['ω', ital(36)]]);
                runs(chart.ctx, 60, labelY + 2, [['*', plain(34)]]);
            }
        }]
    });
}

makeBar('cv-bar-a', barEdgesA, barColorsA, barTicksA, 43, 17, 32);
makeBar('cv-bar-b', barEdgesB, barColorsB, barTicksB, 61, 20, 51);
</script>
</body>
</html>
